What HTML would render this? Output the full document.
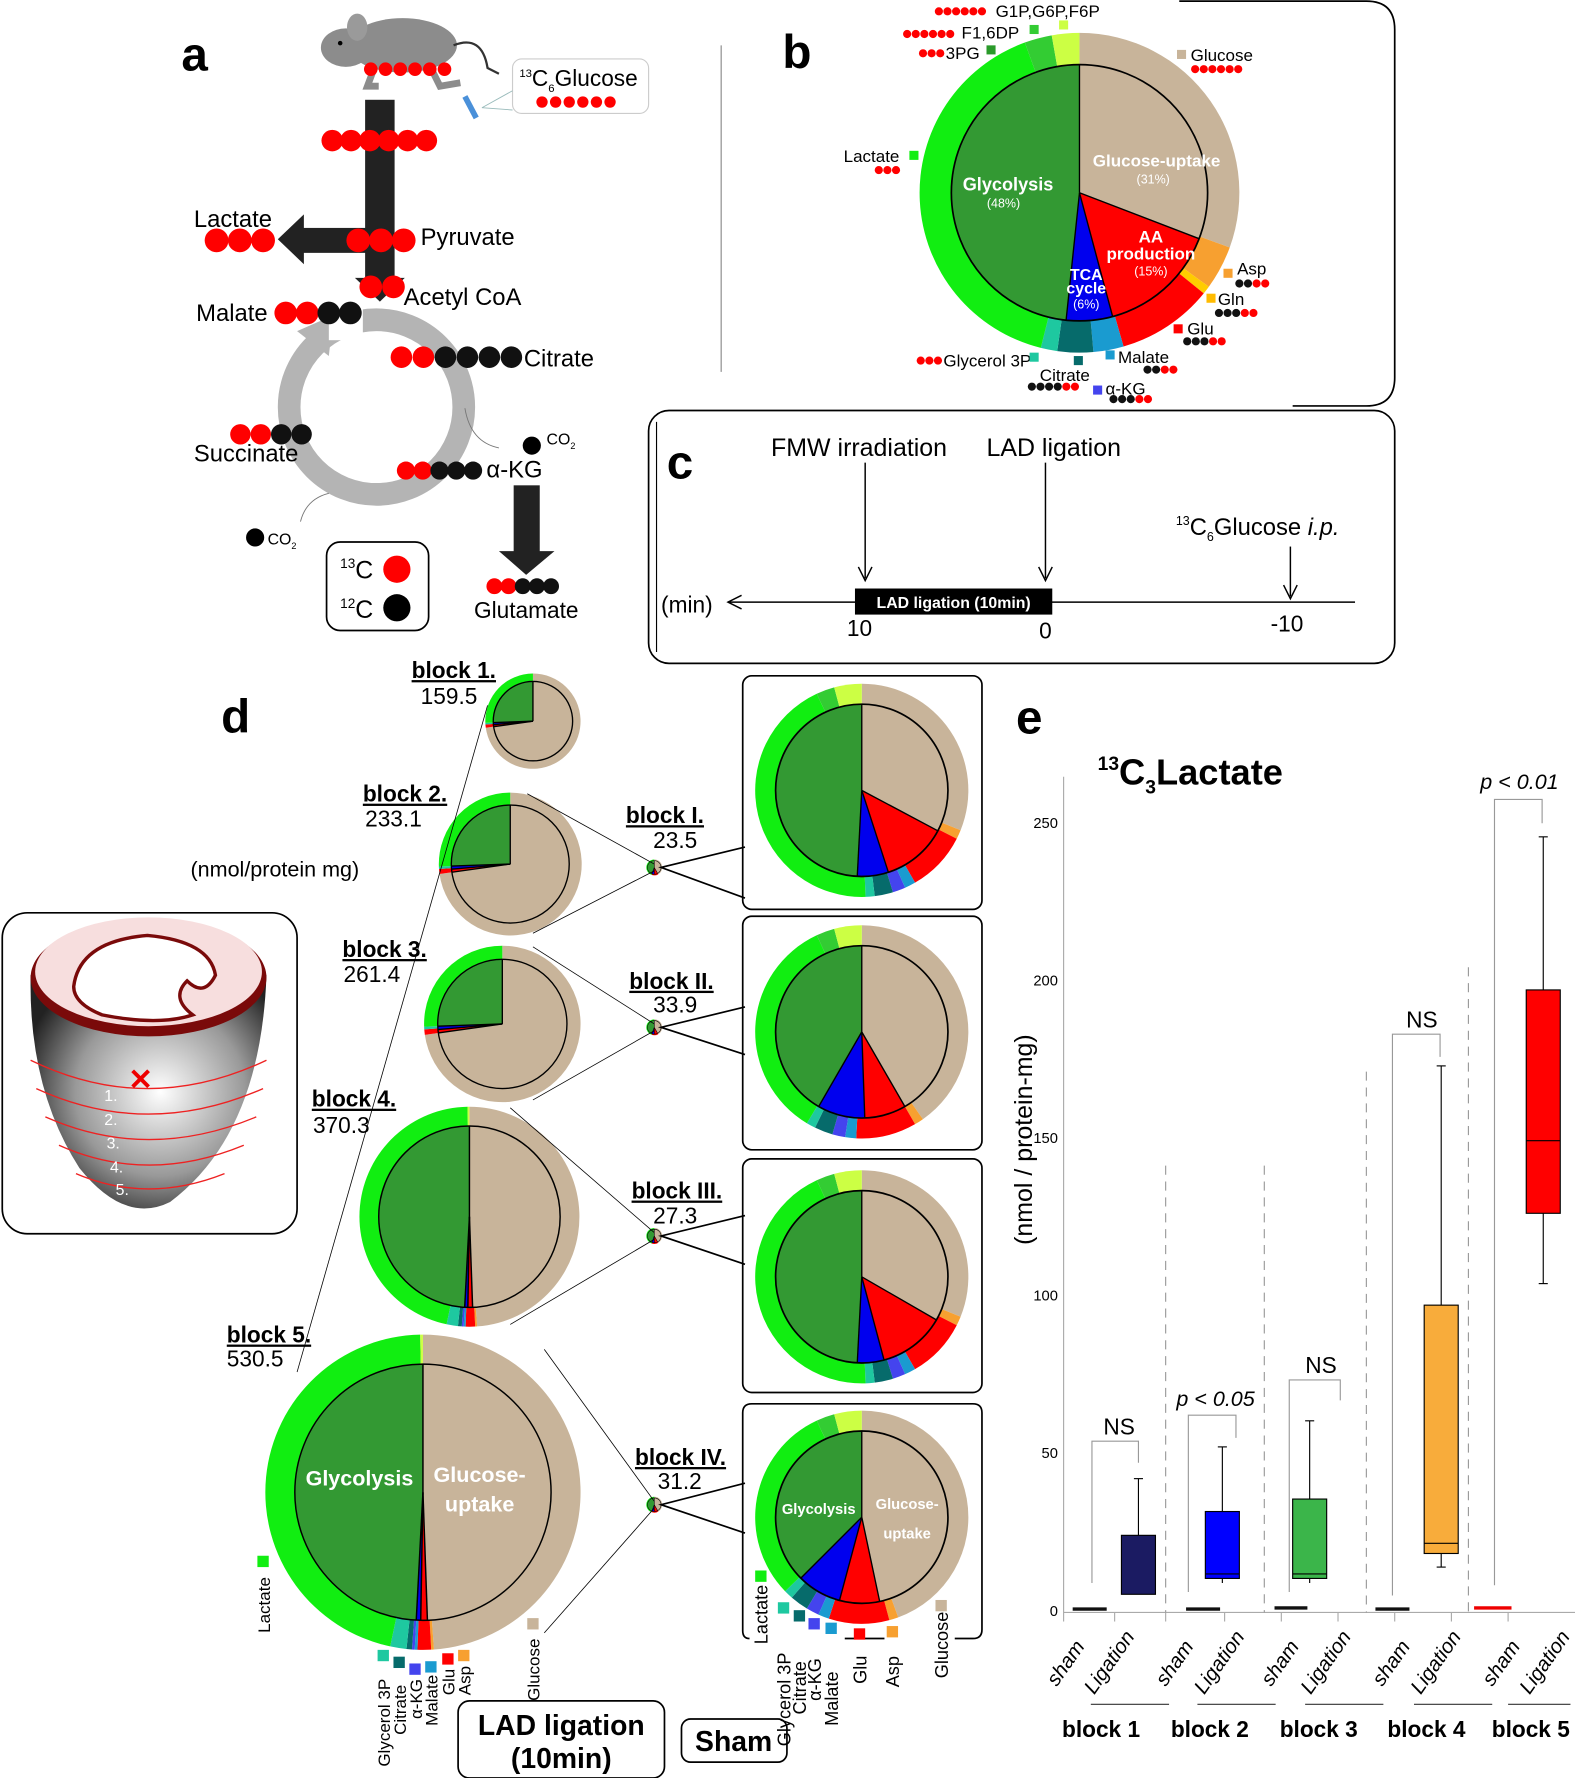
<!DOCTYPE html>
<html><head><meta charset="utf-8"><style>
html,body{margin:0;padding:0;background:#fff;}
svg{display:block;}
text{font-family:"Liberation Sans",Arial,sans-serif;}
</style></head><body>
<svg id="s" xmlns="http://www.w3.org/2000/svg" width="1575" height="1778" viewBox="0 0 1389 1568" preserveAspectRatio="none">
<rect width="1389" height="1568" fill="#fff"/>
<g id="pies"></g>
<!-- Panel a -->
<text x="160" y="62" font-size="42" font-weight="bold">a</text>
<ellipse cx="355" cy="40" rx="48" ry="24" fill="#8c8c8c"/>
<ellipse cx="305" cy="42" rx="22" ry="17" fill="#8c8c8c"/>
<ellipse cx="315" cy="24" rx="9" ry="12" fill="#9a9a9a"/>
<circle cx="300" cy="38" r="2" fill="#000"/>
<path d="M330 60 l-6 16 l10 0 M380 60 l8 16 l18 -3" stroke="#8c8c8c" stroke-width="6" fill="none"/>
<path d="M400 40 q25 -10 30 20 l10 5" stroke="#333" stroke-width="2" fill="none"/>
<line x1="410" y1="85" x2="420" y2="104" stroke="#4a90d9" stroke-width="5"/>
<rect x="452" y="52" width="120" height="48" rx="8" fill="#fff" stroke="#ccc"/>
<path d="M425 95 L452 80 M425 95 L452 97" stroke="#9bb" stroke-width="0.8"/>
<text x="458" y="76" font-size="20"><tspan font-size="10" dy="-8">13</tspan><tspan dy="8">C</tspan><tspan font-size="10" dy="5">6</tspan><tspan dy="-5">Glucose</tspan></text>
<rect x="322" y="88" width="26" height="160" fill="#222"/>
<polygon points="313,245 357,245 335,266" fill="#222"/>
<rect x="265" y="201" width="70" height="22" fill="#222"/>
<polygon points="268,189 268,233 245,211" fill="#222"/>
<text x="171" y="200" font-size="21">Lactate</text>
<text x="371" y="216" font-size="21">Pyruvate</text>
<text x="356" y="269" font-size="21">Acetyl CoA</text>
<text x="173" y="283" font-size="21">Malate</text>
<circle cx="332" cy="359" r="77" fill="none" stroke="#b4b4b4" stroke-width="20"/>
<path d="M262 292 l32 -14 l-4 36 z" fill="#b4b4b4"/>
<rect x="290" y="270" width="30" height="30" fill="#fff"/>
<text x="462" y="323" font-size="21">Citrate</text>
<text x="171" y="407" font-size="21">Succinate</text>
<text x="429" y="421" font-size="21">α-KG</text>
<path d="M410 360 q5 30 30 35" stroke="#777" fill="none" stroke-width="0.8"/>
<path d="M290 435 q-20 5 -25 25" stroke="#777" fill="none" stroke-width="0.8"/>
<text x="482" y="392" font-size="14">CO<tspan font-size="8" dy="4">2</tspan></text>
<text x="236" y="480" font-size="14">CO<tspan font-size="8" dy="4">2</tspan></text>
<rect x="453" y="428" width="23" height="60" fill="#222"/>
<polygon points="440,486 489,486 464,507" fill="#222"/>
<text x="418" y="545" font-size="20">Glutamate</text>
<rect x="288" y="478" width="90" height="78" rx="12" fill="#fff" stroke="#000" stroke-width="1.5"/>
<text x="300" y="510" font-size="22"><tspan font-size="12" dy="-9">13</tspan><tspan dy="9">C</tspan></text>
<text x="300" y="545" font-size="22"><tspan font-size="12" dy="-9">12</tspan><tspan dy="9">C</tspan></text>
<circle cx="350" cy="502" r="12" fill="#f00"/><circle cx="350" cy="536" r="12" fill="#000"/>
<line x1="636" y1="40" x2="636" y2="328" stroke="#888"/>
<!-- Panel b -->
<path d="M1040 1 L1205 1 Q1230 1 1230 26 L1230 333 Q1230 358 1205 358 L1140 358" fill="none" stroke="#000" stroke-width="1.5"/>
<text x="690" y="60" font-size="42" font-weight="bold">b</text>
<g font-size="15">
<text x="878" y="15">G1P,G6P,F6P</text>
<text x="848" y="34">F1,6DP</text>
<text x="834" y="52">3PG</text>
<text x="1050" y="54">Glucose</text>
<text x="744" y="143">Lactate</text>
<text x="1091" y="242">Asp</text>
<text x="1074" y="269">Gln</text>
<text x="1047" y="295">Glu</text>
<text x="986" y="320">Malate</text>
<text x="832" y="323">Glycerol 3P</text>
<text x="917" y="336">Citrate</text>
<text x="975" y="348">α-KG</text>
</g>
<g fill="#fff" font-weight="bold" text-anchor="middle">
<text x="889" y="168" font-size="16">Glycolysis</text>
<text x="885" y="183" font-size="11" font-weight="normal">(48%)</text>
<text x="1020" y="147" font-size="15">Glucose-uptake</text>
<text x="1017" y="162" font-size="11" font-weight="normal">(31%)</text>
<text x="1015" y="214" font-size="15">AA</text>
<text x="1015" y="229" font-size="15">production</text>
<text x="1015" y="243" font-size="11" font-weight="normal">(15%)</text>
<text x="958" y="247" font-size="14">TCA</text>
<text x="958" y="259" font-size="14">cycle</text>
<text x="958" y="272" font-size="11" font-weight="normal">(6%)</text>
</g>
<!-- Panel c -->
<rect x="572" y="362" width="658" height="223" rx="18" fill="none" stroke="#000" stroke-width="1.5"/>
<line x1="579" y1="372" x2="579" y2="575" stroke="#000"/>
<text x="588" y="422" font-size="42" font-weight="bold">c</text>
<text x="680" y="402" font-size="22">FMW irradiation</text>
<text x="870" y="402" font-size="22">LAD ligation</text>
<text x="1037" y="472" font-size="21"><tspan font-size="11" dy="-9">13</tspan><tspan dy="9">C</tspan><tspan font-size="11" dy="5">6</tspan><tspan dy="-5">Glucose </tspan><tspan font-style="italic">i.p.</tspan></text>
<g stroke="#000" stroke-width="1.3" fill="none">
<line x1="763" y1="408" x2="763" y2="510"/><polyline points="757,500 763,512 769,500"/>
<line x1="922" y1="408" x2="922" y2="510"/><polyline points="916,500 922,512 928,500"/>
<line x1="1138" y1="482" x2="1138" y2="526"/><polyline points="1132,516 1138,528 1144,516"/>
<line x1="642" y1="531" x2="1195" y2="531"/><polyline points="654,525 642,531 654,537"/>
</g>
<text x="583" y="540" font-size="20">(min)</text>
<rect x="754" y="519" width="174" height="23" fill="#000"/>
<text x="841" y="536" font-size="14" fill="#fff" font-weight="bold" text-anchor="middle">LAD ligation (10min)</text>
<text x="758" y="561" font-size="20" text-anchor="middle">10</text>
<text x="922" y="563" font-size="20" text-anchor="middle">0</text>
<text x="1135" y="557" font-size="20" text-anchor="middle">-10</text>
<!-- Panel d -->
<text x="195" y="646" font-size="42" font-weight="bold">d</text>
<g font-size="20" font-weight="bold" text-decoration="underline">
<text x="363" y="598">block 1.</text><text x="320" y="707">block 2.</text><text x="302" y="844">block 3.</text>
<text x="275" y="976">block 4.</text><text x="200" y="1184">block 5.</text>
<text x="552" y="726">block I.</text><text x="555" y="872">block II.</text><text x="557" y="1057">block III.</text><text x="560" y="1292">block IV.</text>
</g>
<g font-size="20">
<text x="371" y="621">159.5</text><text x="322" y="729">233.1</text><text x="303" y="866">261.4</text>
<text x="276" y="999">370.3</text><text x="200" y="1205">530.5</text>
<text x="576" y="748">23.5</text><text x="576" y="893">33.9</text><text x="576" y="1079">27.3</text><text x="580" y="1313">31.2</text>
<text x="168" y="773" font-size="19">(nmol/protein mg)</text>
</g>
<g stroke="#000" stroke-width="0.7" fill="none">
<line x1="430" y1="622" x2="262" y2="1210"/>
<line x1="465" y1="700" x2="577" y2="762"/><line x1="470" y1="823" x2="577" y2="768"/>
<line x1="470" y1="835" x2="577" y2="903"/><line x1="470" y1="970" x2="577" y2="909"/>
<line x1="450" y1="977" x2="577" y2="1087"/><line x1="450" y1="1168" x2="577" y2="1093"/>
<line x1="480" y1="1190" x2="577" y2="1324"/><line x1="480" y1="1440" x2="577" y2="1330"/>
</g>
<g stroke="#000" stroke-width="1.5" fill="none">
<polyline points="657,747 583,765 657,792"/><polyline points="657,888 583,906 657,930"/>
<polyline points="657,1072 583,1090 657,1115"/><polyline points="657,1308 583,1327 657,1352"/>
<rect x="655" y="596" width="211" height="206" rx="8"/>
<rect x="655" y="808" width="211" height="206" rx="8"/>
<rect x="655" y="1022" width="211" height="206" rx="8"/>
<path d="M661 1445 Q655 1445 655 1438 L655 1246 Q655 1238 663 1238 L858 1238 Q866 1238 866 1246 L866 1437 Q866 1445 858 1445 L842 1445 M780 1445 L745 1445"/>
<rect x="404" y="1500" width="182" height="68" rx="10"/>
<rect x="601" y="1516" width="93" height="38" rx="8"/>
</g>
<text x="495" y="1530" font-size="25" font-weight="bold" text-anchor="middle">LAD ligation</text>
<text x="495" y="1559" font-size="25" font-weight="bold" text-anchor="middle">(10min)</text>
<text x="647" y="1544" font-size="25" font-weight="bold" text-anchor="middle">Sham</text>
<g fill="#fff" font-weight="bold" text-anchor="middle">
<text x="317" y="1310" font-size="19">Glycolysis</text>
<text x="423" y="1307" font-size="19">Glucose-</text>
<text x="423" y="1333" font-size="19">uptake</text>
<text x="722" y="1335" font-size="13">Glycolysis</text>
<text x="800" y="1331" font-size="13">Glucose-</text>
<text x="800" y="1357" font-size="13">uptake</text>
</g>
<g id="lbl" font-size="15"></g>
<!-- heart inset -->
<rect x="2" y="805" width="260" height="283" rx="22" fill="#fff" stroke="#000" stroke-width="1.5"/>
<defs>
<radialGradient id="hg" cx="0.55" cy="0.5" r="0.6"><stop offset="0" stop-color="#fff"/><stop offset="0.6" stop-color="#999"/><stop offset="1" stop-color="#222"/></radialGradient>
</defs>
<path d="M27 860 Q25 960 70 1030 Q110 1080 150 1060 Q230 1000 235 860 Z" fill="url(#hg)"/>
<ellipse cx="131" cy="862" rx="104" ry="52" fill="#7a0a0a"/>
<ellipse cx="131" cy="857" rx="100" ry="48" fill="#f7dede"/>
<path d="M65 870 Q70 830 130 825 Q185 830 190 860 Q180 880 165 865 Q150 880 170 895 Q140 905 90 895 Q65 885 65 870 Z" fill="#fff" stroke="#7a0a0a" stroke-width="3"/>
<g stroke="#e22" stroke-width="1.2" fill="none">
<path d="M27 935 Q130 985 235 935"/><path d="M32 960 Q130 1005 232 960"/><path d="M40 985 Q130 1025 226 985"/>
<path d="M52 1010 Q130 1045 215 1010"/><path d="M67 1035 Q130 1062 198 1035"/>
</g>
<g fill="#fff" font-size="14"><text x="92" y="971">1.</text><text x="92" y="992">2.</text><text x="94" y="1013">3.</text><text x="97" y="1034">4.</text><text x="102" y="1054">5.</text></g>
<text x="124" y="961" font-size="26" font-weight="bold" fill="#e00" text-anchor="middle">✕</text>
<!-- Panel e -->
<text x="896" y="647" font-size="42" font-weight="bold">e</text>
<text x="968" y="692" font-size="32" font-weight="bold"><tspan font-size="17" dy="-13">13</tspan><tspan dy="13">C</tspan><tspan font-size="17" dy="8">3</tspan><tspan dy="-8">Lactate</tspan></text>
<line x1="938" y1="685" x2="938" y2="1422" stroke="#aaa"/>
<line x1="938" y1="1422" x2="1389" y2="1422" stroke="#aaa"/>
<g stroke="#aaa"><line x1="938" y1="1422" x2="938" y2="1430"/><line x1="983" y1="1422" x2="983" y2="1430"/><line x1="1028" y1="1422" x2="1028" y2="1430"/><line x1="1080" y1="1422" x2="1080" y2="1430"/><line x1="1130" y1="1422" x2="1130" y2="1430"/><line x1="1180" y1="1422" x2="1180" y2="1430"/><line x1="1230" y1="1422" x2="1230" y2="1430"/><line x1="1280" y1="1422" x2="1280" y2="1430"/><line x1="1330" y1="1422" x2="1330" y2="1430"/></g>
<g font-size="13" text-anchor="end"><text x="933" y="730">250</text><text x="933" y="869">200</text><text x="933" y="1008">150</text><text x="933" y="1147">100</text><text x="933" y="1286">50</text><text x="933" y="1425">0</text></g>
<text transform="translate(910,1005) rotate(-90)" font-size="22" text-anchor="middle">(nmol / protein-mg)</text>
<g stroke="#999" stroke-dasharray="8,6"><line x1="1028" y1="1028" x2="1028" y2="1422"/><line x1="1115" y1="1028" x2="1115" y2="1422"/><line x1="1205" y1="945" x2="1205" y2="1422"/><line x1="1295" y1="853" x2="1295" y2="1422"/></g>
<g stroke="#999" fill="none">
<polyline points="963,1396 963,1271 1004,1271 1004,1290"/>
<polyline points="1048,1404 1048,1248 1090,1248 1090,1268"/>
<polyline points="1137,1404 1137,1217 1182,1217 1182,1235"/>
<polyline points="1228,1407 1228,912 1270,912 1270,932"/>
<polyline points="1318,1398 1318,705 1360,705 1360,726"/>
</g>
<g font-size="20" text-anchor="middle"><text x="987" y="1265">NS</text><text x="1165" y="1211">NS</text><text x="1254" y="906">NS</text></g>
<g font-size="19" font-style="italic" text-anchor="middle"><text x="1072" y="1240">p &lt; 0.05</text><text x="1340" y="696">p &lt; 0.01</text></g>
<g stroke="#000" stroke-width="1">
<line x1="1004" y1="1304" x2="1004" y2="1406"/><line x1="1078" y1="1276" x2="1078" y2="1396"/><line x1="1155" y1="1253" x2="1155" y2="1396"/><line x1="1271" y1="940" x2="1271" y2="1382"/><line x1="1361" y1="738" x2="1361" y2="1132"/>
<line x1="1000" y1="1304" x2="1008" y2="1304"/><line x1="1074" y1="1276" x2="1082" y2="1276"/><line x1="1151" y1="1253" x2="1159" y2="1253"/><line x1="1267" y1="940" x2="1275" y2="940"/><line x1="1357" y1="738" x2="1365" y2="738"/>
<line x1="1267" y1="1382" x2="1275" y2="1382"/><line x1="1357" y1="1132" x2="1365" y2="1132"/>
<rect x="989" y="1354" width="30" height="52" fill="#1b1b62"/>
<rect x="1063" y="1333" width="30" height="59" fill="#0000ff"/>
<rect x="1140" y="1322" width="30" height="70" fill="#3bb54a"/>
<rect x="1256" y="1151" width="30" height="219" fill="#f8ac3b"/>
<rect x="1346" y="873" width="30" height="197" fill="#ff0000"/>
<line x1="1063" y1="1388" x2="1093" y2="1388"/><line x1="1140" y1="1388" x2="1170" y2="1388"/><line x1="1256" y1="1361" x2="1286" y2="1361"/><line x1="1346" y1="1006" x2="1376" y2="1006"/>
</g>
<g stroke-width="3"><line x1="946" y1="1419" x2="976" y2="1419" stroke="#111"/><line x1="1046" y1="1419" x2="1076" y2="1419" stroke="#111"/><line x1="1124" y1="1418" x2="1153" y2="1418" stroke="#111"/><line x1="1213" y1="1419" x2="1243" y2="1419" stroke="#111"/><line x1="1300" y1="1418" x2="1333" y2="1418" stroke="#e00"/></g>
<g font-size="18" font-style="italic">
<text transform="translate(932,1488) rotate(-55)">sham</text><text transform="translate(965,1495) rotate(-55)">Ligation</text>
<text transform="translate(1028,1488) rotate(-55)">sham</text><text transform="translate(1062,1495) rotate(-55)">Ligation</text>
<text transform="translate(1121,1488) rotate(-55)">sham</text><text transform="translate(1156,1495) rotate(-55)">Ligation</text>
<text transform="translate(1219,1488) rotate(-55)">sham</text><text transform="translate(1253,1495) rotate(-55)">Ligation</text>
<text transform="translate(1316,1488) rotate(-55)">sham</text><text transform="translate(1349,1495) rotate(-55)">Ligation</text>
</g>
<g stroke="#333"><line x1="962" y1="1503" x2="1031" y2="1503"/><line x1="1056" y1="1503" x2="1125" y2="1503"/><line x1="1151" y1="1503" x2="1220" y2="1503"/><line x1="1247" y1="1503" x2="1316" y2="1503"/><line x1="1330" y1="1503" x2="1385" y2="1503"/></g>
<g font-size="20" font-weight="bold" text-anchor="middle"><text x="971" y="1532">block 1</text><text x="1067" y="1532">block 2</text><text x="1163" y="1532">block 3</text><text x="1258" y="1532">block 4</text><text x="1350" y="1532">block 5</text></g>
</svg>
<script>
var NS="http://www.w3.org/2000/svg";
var P=document.getElementById('pies'),L=document.getElementById('lbl'),S=document.getElementById('s');
function el(t,a,par){var e=document.createElementNS(NS,t);for(var k in a)e.setAttribute(k,a[k]);(par||P).appendChild(e);return e;}
function pt(cx,cy,r,a){a=a*Math.PI/180;return [cx+r*Math.sin(a),cy-r*Math.cos(a)];}
function wedge(cx,cy,r,a0,a1,c){if(a1-a0>=359.99){el('circle',{cx:cx,cy:cy,r:r,fill:c});return;}
var p0=pt(cx,cy,r,a0),p1=pt(cx,cy,r,a1);el('path',{d:'M'+cx+' '+cy+'L'+p0[0]+' '+p0[1]+'A'+r+' '+r+' 0 '+((a1-a0)>180?1:0)+' 1 '+p1[0]+' '+p1[1]+'Z',fill:c});}
function pie(cx,cy,ro,ri,outer,inner,sw){
 for(var i=0;i<outer.length;i++)wedge(cx,cy,ro,outer[i][0],outer[i][1],outer[i][2]);
 for(i=0;i<inner.length;i++)wedge(cx,cy,ri,inner[i][0],inner[i][1],inner[i][2]);
 el('circle',{cx:cx,cy:cy,r:ri,fill:'none',stroke:'#000','stroke-width':sw||1.5});
 for(i=0;i<inner.length;i++){var p=pt(cx,cy,ri,inner[i][0]);el('line',{x1:cx,y1:cy,x2:p[0],y2:p[1],stroke:'#000','stroke-width':sw||1.2});}
}
var TAN='#c8b49a',RED='#ff0000',BLUE='#0000ee',DG='#339933',LG='#11ee11',OR='#f7a030',MAL='#1a9bd0',AKG='#4444ee',CIT='#066b6b',GLY='#1ec8a0',MG='#33cc33',YG='#ccff44';
pie(952,170,141,113,[[0,110,TAN],[110,126,OR],[126,129,'#ffcc00'],[129,164,RED],[164,175,MAL],[175,188,CIT],[188,194,GLY],[194,340,LG],[340,350,MG],[350,360,YG]],
 [[0,111,TAN],[111,165,RED],[165,186,BLUE],[186,360,DG]]);
function shamOuter(t){return [[0,t,TAN],[t,t+5,OR],[t+5,t+38,RED],[t+38,t+44,MAL],[t+44,t+51,AKG],[t+51,t+61,CIT],[t+61,t+66,GLY],[t+66,335,LG],[335,345,MG],[345,360,YG]];}
pie(760,697,94,76,shamOuter(112),[[0,118,TAN],[118,162,RED],[162,183,BLUE],[183,360,DG]]);
pie(760,910,94,76,shamOuter(145),[[0,150,TAN],[150,178,RED],[178,210,BLUE],[210,360,DG]]);
pie(760,1126,94,76,shamOuter(112),[[0,120,TAN],[120,165,RED],[165,183,BLUE],[183,360,DG]]);
pie(760,1338,94,76,shamOuter(160),[[0,168,TAN],[168,195,RED],[195,225,BLUE],[225,360,DG]]);
function lad(cx,cy,ro,ri){pie(cx,cy,ro,ri,[[0,176,TAN],[176,177,OR],[177,182,RED],[182,183,MAL],[183,184,AKG],[184,186,CIT],[186,192,GLY],[192,359,LG],[359,360,YG]],[[0,178,TAN],[178,181,RED],[181,183,BLUE],[183,360,DG]],1.3);}
lad(414,1073,97,80);lad(373,1316,139,113);
function early(cx,cy,ro,ri){pie(cx,cy,ro,ri,[[0,262,TAN],[262,266,RED],[266,268,GLY],[268,360,LG]],[[0,262,TAN],[262,265,RED],[265,268,BLUE],[268,360,DG]],1.2);}
early(470,636,42,35);early(450,762,63,52);early(443,903,69,57);
[[577,765],[577,906],[577,1090],[577,1327]].forEach(function(c){pie(c[0],c[1],7,6,[[0,150,TAN],[150,200,RED],[200,360,LG]],[[0,150,TAN],[150,180,RED],[180,200,BLUE],[200,360,DG]],0.5);});
function dots(x0,y,r,step,cols,par){for(var i=0;i<cols.length;i++)el('circle',{cx:x0+i*step,cy:y,r:r,fill:cols[i]=='r'?'#f00':'#111'},par||S);}
dots(327,61,6,13,'rrrrrr');dots(478,90,5,12,'rrrrrr');
dots(293,124,9.5,16.6,'rrrrrr');dots(191,212,10.5,20.5,'rrr');dots(316,212,10.5,20,'rrr');
dots(327,253,10,20,'rr');dots(252,276,10,19,'rrbb');dots(354,315,9.5,19.4,'rrbbbb');
dots(212,383,9,18,'rrbb');dots(358,415,8,14.8,'rrbbb');
el('circle',{cx:469,cy:393,r:8,fill:'#000'},S);el('circle',{cx:225,cy:474,r:8,fill:'#000'},S);
dots(436,517,7,12.5,'rrbbb');
dots(828,10,3.6,7.6,'rrrrrr');dots(800,30,3.6,7.6,'rrrrrr');dots(814,47,3.6,7.6,'rrr');dots(1054,61,3.6,7.6,'rrrrrr');
dots(775,150,3.6,7.6,'rrr');dots(1093,250,3.6,7.6,'bbrr');dots(1075,276,3.6,7.6,'bbbrr');dots(1047,301,3.6,7.6,'bbbrr');
dots(1012,326,3.6,7.6,'bbrr');dots(812,318,3.6,7.6,'rrr');dots(910,341,3.6,7.6,'bbbbrr');dots(982,352,3.6,7.6,'bbbrr');
function sq(x,y,c,s){el('rect',{x:x-(s||4),y:y-(s||4),width:2*(s||4),height:2*(s||4),fill:c},S);}
sq(938,22,YG);sq(912,26,MG);sq(874,44,'#2a9a2a');sq(1042,48,TAN);sq(806,137,LG);sq(1083,241,OR);sq(1068,263,'#ffbb00');sq(1039,290,RED);sq(979,313,MAL);sq(912,315,GLY);sq(951,318,CIT);sq(968,344,AKG);
function rl(x,yb,t,c,sy,s){var g=document.createElementNS(NS,'text');g.setAttribute('transform','translate('+(x+6)+','+yb+') rotate(-90)');g.setAttribute('font-size',s||15);g.textContent=t;L.appendChild(g);sq(x,sy,c,5);}
rl(232,1440,'Lactate',LG,1377);rl(338,1558,'Glycerol 3P',GLY,1460);rl(352,1530,'Citrate',CIT,1466);rl(366,1516,'α-KG',AKG,1472);rl(380,1522,'Malate',MAL,1470);rl(395,1495,'Glu',RED,1463);rl(409,1495,'Asp',OR,1460);rl(470,1500,'Glucose',TAN,1432);
rl(671,1450,'Lactate',LG,1390,16);rl(691,1540,'Glycerol 3P',GLY,1418,16);rl(705,1512,'Citrate',CIT,1425,16);rl(718,1500,'α-KG',AKG,1432,16);rl(733,1522,'Malate',MAL,1436,16);rl(758,1485,'Glu',RED,1441,16);rl(787,1488,'Asp',OR,1439,16);rl(830,1480,'Glucose',TAN,1416,16);
</script>
</body></html>
